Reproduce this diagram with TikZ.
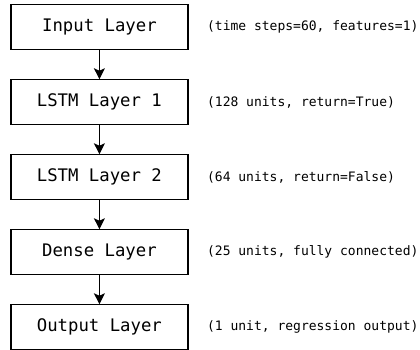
\documentclass[tikz,border=0pt]{standalone}
\usepackage{fontspec}
\setmonofont{DejaVu Sans Mono}
\usetikzlibrary{arrows.meta, positioning}

\begin{document}
\begin{tikzpicture}[x=1pt, y=1pt,
  layer/.style={draw=black, line width=1.3, fill=white, text=black, text centered, minimum width=177, minimum height=45.5, outer sep=0, font=\ttfamily\fontsize{17.3}{20}\selectfont},
  info/.style={anchor=west, inner sep=0, xshift=19, text=black, font=\ttfamily\fontsize{13}{16}\selectfont},
  flow/.style={-{Stealth[length=11, width=11, inset=2.5]}, line width=1.1, black}]
\useasboundingbox (0,0) rectangle (420,-350);

% --- Layers ---
\node at (99.4,-27) [layer] (input) {Input Layer};
\node [layer, below=29.5 of input] (lstma) {LSTM Layer 1};
\node [layer, below=29.5 of lstma] (lstmb) {LSTM Layer 2};
\node [layer, below=29.5 of lstmb] (dense) {Dense Layer};
\node [layer, below=29.5 of dense] (output) {Output Layer};

% --- Layer details ---
\node at (input.east) [info] (inputinfo) {(time steps=60, features=1)};
\node at (lstma.east) [info] (lstmainfo) {(128 units, return=True)};
\node at (lstmb.east) [info] (lstmbinfo) {(64 units, return=False)};
\node at (dense.east) [info] (denseinfo) {(25 units, fully connected)};
\node at (output.east) [info] (outputinfo) {(1 unit, regression output)};

% --- Arrows ---
\draw [flow] (input) -- (lstma);
\draw [flow] (lstma) -- (lstmb);
\draw [flow] (lstmb) -- (dense);
\draw [flow] (dense) -- (output);
\end{tikzpicture}
\end{document}
